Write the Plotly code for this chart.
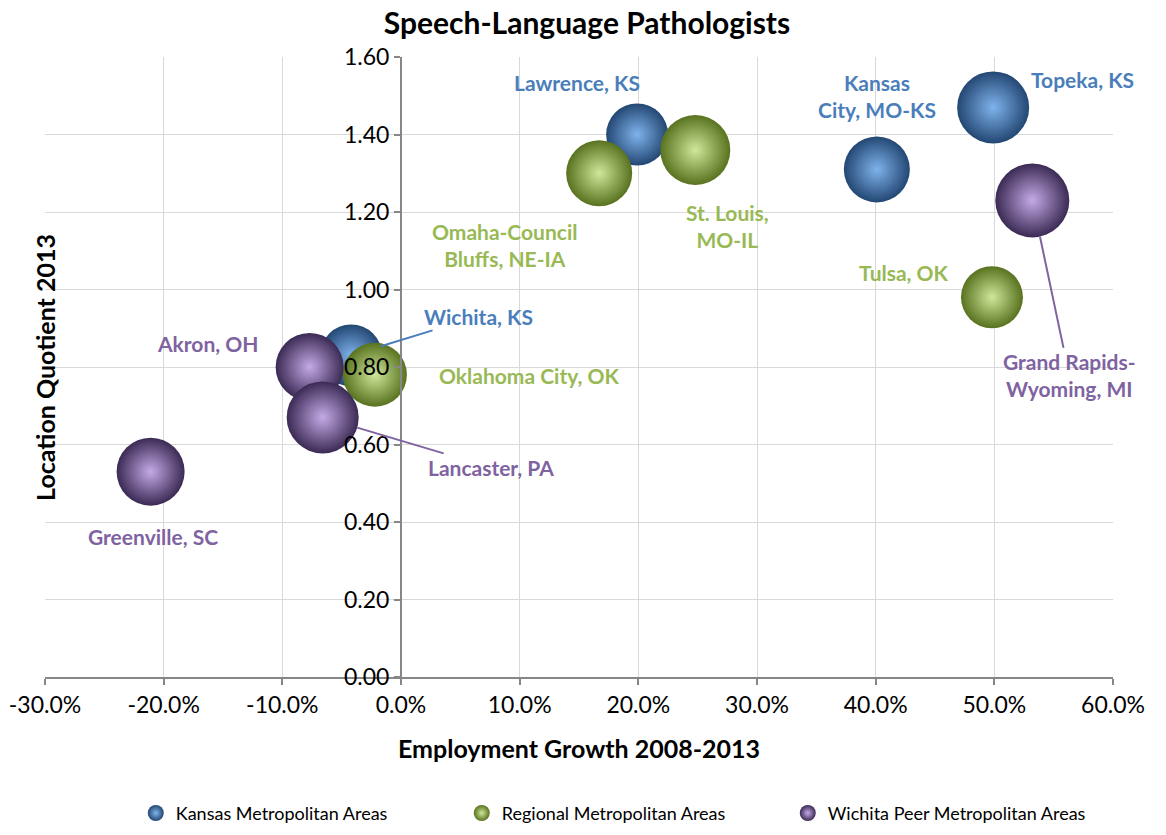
import plotly.graph_objects as go

# data
kansas_names = ["Lawrence, KS", "Kansas<br>City, MO-KS", "Topeka, KS", "Wichita, KS"]
kansas_growth = [19.9, 40.1, 49.9, -4.2]
kansas_lq = [1.40, 1.31, 1.47, 0.83]
kansas_size = [62, 66, 72, 62]

regional_names = ["Omaha-Council<br>Bluffs, NE-IA", "St. Louis,<br>MO-IL", "Tulsa, OK", "Oklahoma City, OK"]
regional_growth = [16.7, 24.8, 49.8, -2.2]
regional_lq = [1.30, 1.36, 0.98, 0.78]
regional_size = [66, 70, 62, 64]

peer_names = ["Akron, OH", "Lancaster, PA", "Greenville, SC", "Grand Rapids-<br>Wyoming, MI"]
peer_growth = [-7.7, -6.6, -21.1, 53.2]
peer_lq = [0.80, 0.67, 0.53, 1.23]
peer_size = [68, 72, 68, 74]

x_ticks = [-30, -20, -10, 0, 10, 20, 30, 40, 50, 60]
y_ticks = [0, 0.2, 0.4, 0.6, 0.8, 1.0, 1.2, 1.4, 1.6]

FONT = "Lato"

groups = [
    ("Kansas Metropolitan Areas", kansas_names, kansas_growth, kansas_lq, kansas_size,
     "#234773", "#7fb3ec", "#4a7ebb"),
    ("Regional Metropolitan Areas", regional_names, regional_growth, regional_lq, regional_size,
     "#58721f", "#cfe79a", "#98b954"),
    ("Wichita Peer Metropolitan Areas", peer_names, peer_growth, peer_lq, peer_size,
     "#3b2a54", "#c4aae6", "#7f63a1"),
]

# label offsets in px (dx, dy down), and whether a leader line is drawn
label_pos = {
    "Lawrence, KS": (-60, -52, False),
    "Kansas<br>City, MO-KS": (0, -73, False),
    "Topeka, KS": (89, -28, False),
    "Wichita, KS": (127, -39, True),
    "Omaha-Council<br>Bluffs, NE-IA": (-95, 72, False),
    "St. Louis,<br>MO-IL": (32, 76, False),
    "Tulsa, OK": (-88, -25, False),
    "Oklahoma City, OK": (154, 1, False),
    "Akron, OH": (-102, -24, False),
    "Lancaster, PA": (168, 50, True),
    "Greenville, SC": (2, 65, False),
    "Grand Rapids-<br>Wyoming, MI": (37, 175, True),
}

fig = go.Figure()
annotations = []
for name, labels, xs, ys, sizes, edge, center, txtcol in groups:
    fig.add_trace(go.Scatter(
        x=xs, y=ys, mode="markers", name=name,
        marker=dict(size=sizes, sizemode="diameter", color=edge,
                    gradient=dict(type="radial", color=center),
                    line=dict(width=0), opacity=1),
        hoverinfo="text", text=labels,
    ))
    for lab, x, y, s in zip(labels, xs, ys, sizes):
        dx, dy, leader = label_pos[lab]
        annotations.append(dict(
            x=x, y=y, xref="x", yref="y", text="<b>%s</b>" % lab,
            showarrow=True, ax=dx, ay=dy, axref="pixel", ayref="pixel",
            arrowhead=0, arrowwidth=2,
            arrowcolor=txtcol if leader else "rgba(0,0,0,0)",
            standoff=s / 2 if leader else 0,
            font=dict(family=FONT, size=21, color=txtcol),
            align="center",
        ))

# the page body adds an 8px margin, so the figure is 8px smaller and shifted
fig.update_layout(
    width=1158, height=827,
    margin=dict(l=37, r=53, t=49, b=158, autoexpand=False),
    paper_bgcolor="white", plot_bgcolor="white",
    title=dict(text="<b>Speech-Language Pathologists</b>", x=0.5, xanchor="center",
               y=0.981, yanchor="middle", font=dict(family=FONT, size=30, color="black")),
    annotations=annotations,
    showlegend=True,
    legend=dict(orientation="h", x=0.085, xanchor="left", y=-0.19, yanchor="top",
                itemsizing="trace", entrywidth=281,
                font=dict(family=FONT, size=18, color="black")),
    xaxis=dict(range=[-30, 60], tickvals=x_ticks,
               ticktext=["%.1f%%" % v for v in x_ticks], automargin=False,
               showgrid=True, gridcolor="#d9d9d9", gridwidth=1,
               zeroline=False, showline=True, linecolor="#878787", linewidth=2,
               ticks="outside", ticklen=6, tickcolor="#878787", tickwidth=2,
               tickfont=dict(family=FONT, size=23, color="black"),
               title=dict(text="<b>Employment Growth 2008-2013</b>", standoff=24,
                          font=dict(family=FONT, size=25, color="black"))),
    yaxis=dict(range=[0, 1.6], tickvals=y_ticks,
               ticktext=["%.2f" % v for v in y_ticks], automargin=False,
               anchor="free", position=1 / 3,
               showgrid=True, gridcolor="#d9d9d9", gridwidth=1,
               zeroline=False, showline=True, linecolor="#878787", linewidth=2,
               ticks="outside", ticklen=6, tickcolor="#878787", tickwidth=2,
               tickfont=dict(family=FONT, size=23, color="black")),
)

fig.add_annotation(text="<b>Location Quotient 2013</b>", textangle=-90,
                   x=-0.016, y=0.5, xref="paper", yref="paper", showarrow=False,
                   font=dict(family=FONT, size=25, color="black"))

fig.write_html("out.html")
